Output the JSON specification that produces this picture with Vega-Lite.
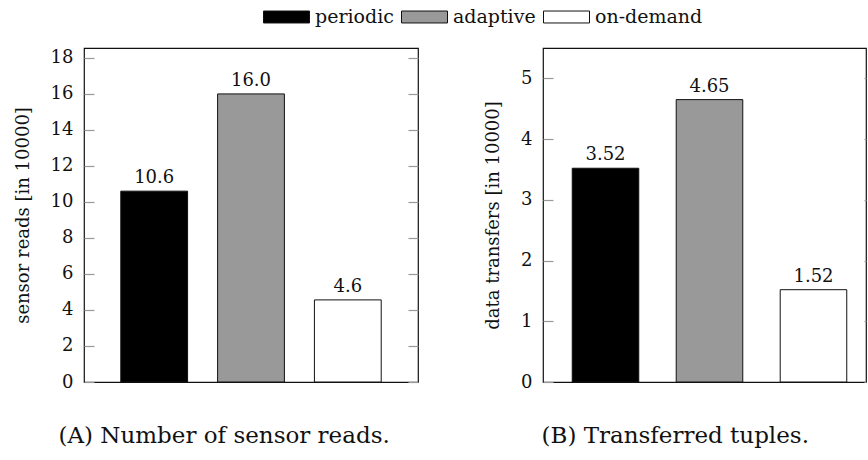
{
  "$schema": "https://vega.github.io/schema/vega-lite/v6.json",
  "padding": {"left": 13, "top": 5, "right": 0, "bottom": 0},
  "autosize": {"type": "pad"},
  "config": {
    "font": "DejaVu Serif",
    "view": {"stroke": "#111111", "strokeWidth": 1.2},
    "axis": {
      "labelFont": "DejaVu Serif",
      "labelFontSize": 18,
      "labelColor": "#111111",
      "titleFont": "DejaVu Serif",
      "titleFontSize": 18,
      "titleFontWeight": "normal",
      "titleColor": "#111111",
      "grid": false
    },
    "legend": {
      "labelFont": "DejaVu Serif",
      "labelFontSize": 19,
      "labelColor": "#111111",
      "padding": 0
    },
    "text": {"font": "DejaVu Serif"},
    "concat": {"spacing": 63}
  },
  "datasets": {
    "reads": [
      {"strategy": "periodic", "value": 10.6},
      {"strategy": "adaptive", "value": 16.0},
      {"strategy": "on-demand", "value": 4.56}
    ],
    "transfers": [
      {"strategy": "periodic", "value": 3.52},
      {"strategy": "adaptive", "value": 4.65},
      {"strategy": "on-demand", "value": 1.52}
    ]
  },
  "hconcat": [
    {
      "width": 334,
      "height": 334,
      "data": {"name": "reads"},
      "encoding": {
        "x": {
          "field": "strategy",
          "type": "nominal",
          "sort": ["periodic", "adaptive", "on-demand"],
          "scale": {"paddingInner": 0.31, "paddingOuter": 0.38},
          "axis": {
            "title": "(A) Number of sensor reads.",
            "labels": false,
            "ticks": false,
            "domain": false,
            "titleFontSize": 23,
            "titlePadding": 42,
            "titleX": -26,
            "titleAlign": "left",
            "titleAnchor": "start"
          }
        }
      },
      "layer": [
        {
          "mark": {"type": "bar", "stroke": "#111111", "strokeWidth": 1},
          "encoding": {
            "y": {
              "field": "value",
              "type": "quantitative",
              "scale": {"domain": [0, 18.55], "nice": false},
              "axis": {
                "orient": "left",
                "title": "sensor reads [in 10000]",
                "values": [0, 2, 4, 6, 8, 10, 12, 14, 16, 18],
                "domain": false,
                "tickSize": -10,
                "tickColor": "#999999",
                "tickWidth": 1.2,
                "labelPadding": 21,
                "titlePadding": 18
              }
            },
            "fill": {
              "field": "strategy",
              "type": "nominal",
              "sort": ["periodic", "adaptive", "on-demand"],
              "scale": {
                "domain": ["periodic", "adaptive", "on-demand"],
                "range": ["#000000", "#999999", "#ffffff"]
              },
              "legend": {
                "orient": "none",
                "direction": "horizontal",
                "legendX": 190.5,
                "legendY": -43,
                "title": null,
                "gridAlign": "each",
                "symbolType": "M-2,-0.52H2V0.52H-2Z",
                "symbolSize": 529,
                "symbolStrokeColor": "#111111",
                "symbolStrokeWidth": 1,
                "labelOffset": 16.5,
                "columnPadding": 5
              }
            }
          }
        },
        {
          "mark": {"type": "text", "baseline": "alphabetic", "dy": -8, "fontSize": 18, "color": "#111111"},
          "encoding": {
            "y": {
              "field": "value",
              "type": "quantitative",
              "axis": {
                "orient": "right",
                "title": null,
                "labels": false,
                "values": [0, 2, 4, 6, 8, 10, 12, 14, 16, 18],
                "domain": false,
                "tickSize": -10,
                "tickColor": "#999999",
                "tickWidth": 1.2
              }
            },
            "text": {"field": "value", "type": "quantitative", "format": ".1f"}
          }
        }
      ]
    },
    {
      "width": 323,
      "height": 334,
      "data": {"name": "transfers"},
      "encoding": {
        "x": {
          "field": "strategy",
          "type": "nominal",
          "sort": ["periodic", "adaptive", "on-demand"],
          "scale": {"paddingInner": 0.36, "paddingOuter": 0.233, "align": 0.603},
          "axis": {
            "title": "(B) Transferred tuples.",
            "labels": false,
            "ticks": false,
            "domain": false,
            "titleFontSize": 23,
            "titlePadding": 42,
            "titleX": -2,
            "titleAlign": "left",
            "titleAnchor": "start"
          }
        }
      },
      "layer": [
        {
          "mark": {"type": "bar", "stroke": "#111111", "strokeWidth": 1},
          "encoding": {
            "y": {
              "field": "value",
              "type": "quantitative",
              "scale": {"domain": [0, 5.5], "nice": false},
              "axis": {
                "orient": "left",
                "title": "data transfers [in 10000]",
                "values": [0, 1, 2, 3, 4, 5],
                "domain": false,
                "tickSize": -10,
                "tickColor": "#999999",
                "tickWidth": 1.2,
                "labelPadding": 21,
                "titlePadding": 18
              }
            },
            "fill": {
              "field": "strategy",
              "type": "nominal",
              "sort": ["periodic", "adaptive", "on-demand"],
              "legend": null
            }
          }
        },
        {
          "mark": {"type": "text", "baseline": "alphabetic", "dy": -8, "fontSize": 18, "color": "#111111"},
          "encoding": {
            "y": {
              "field": "value",
              "type": "quantitative",
              "axis": {
                "orient": "right",
                "title": null,
                "labels": false,
                "values": [0, 1, 2, 3, 4, 5],
                "domain": false,
                "tickSize": -2,
                "tickColor": "#999999",
                "tickWidth": 1.2
              }
            },
            "text": {"field": "value", "type": "quantitative", "format": ".2f"}
          }
        }
      ]
    }
  ]
}
